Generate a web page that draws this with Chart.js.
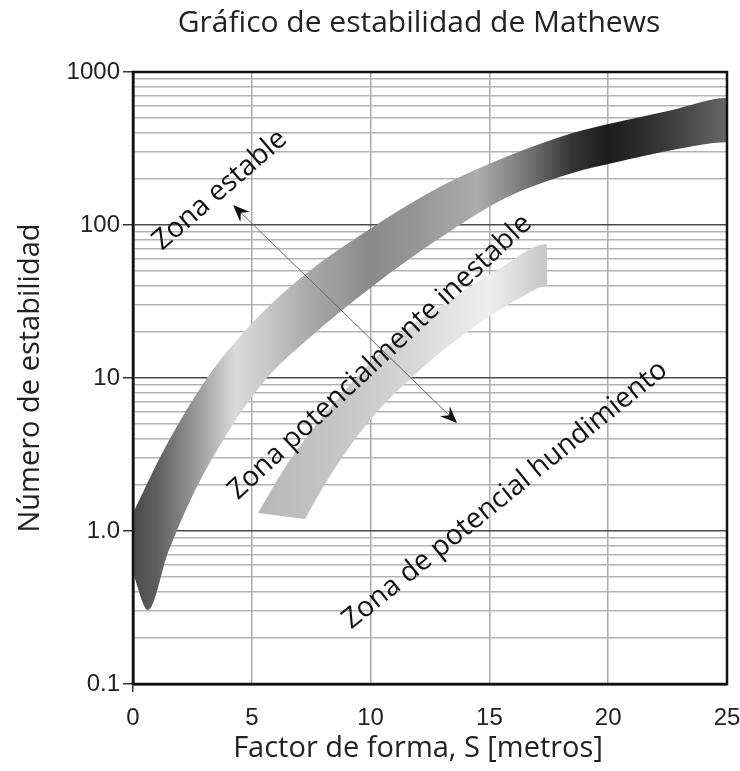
<!DOCTYPE html>
<html>
<head>
<meta charset="utf-8">
<title>Gráfico de estabilidad de Mathews</title>
<script src="https://cdn.jsdelivr.net/npm/chart.js@4.4.1/dist/chart.umd.min.js"></script>
<style>
  body { margin: 0; background: #fff; }
  canvas { display: block; }
</style>
</head>
<body>
<canvas id="mathews" width="740" height="771"></canvas>
<script>
// bordes de las zonas (S en m, N en escala log)
const stableTopX = [0, 1.35, 3.16, 5.26, 7.32, 10.1, 12.9, 15.74, 18.5, 20.2, 22.7, 25];
const stableTopY = [1.31, 3.5, 10.2, 25, 48.6, 97, 177, 280, 399, 464, 565, 676];
const stableBottomX = [0, 0.63, 1.47, 2.48, 3.87, 5.56, 7.32, 10.1, 12.9, 15.74, 18.5, 20.2, 22.7, 25];
const stableBottomY = [0.53, 0.305, 0.72, 1.67, 4.1, 9.7, 17.7, 40, 82, 152, 219, 254, 309, 348];

const cavingTopX = [5.26, 6.6, 9.13, 11.24, 13.34, 15.45, 17.42];
const cavingTopY = [1.31, 2.9, 9.0, 19.1, 32.4, 52, 75];
const cavingBottomX = [7.24, 8.29, 9.97, 12.08, 14.18, 16.29, 17.42];
const cavingBottomY = [1.2, 2.3, 5.3, 11.3, 20.6, 33.4, 40];

const xTickValues = [0, 5, 10, 15, 20, 25];
const xTickLabels = ['0', '5', '10', '15', '20', '25'];
const yTickValues = [0.1, 1, 10, 100, 1000];
const yTickLabels = ['0.1', '1.0', '10', '100', '1000'];

const zoneLabels = ['Zona estable', 'Zona potencialmente inestable', 'Zona de potencial hundimiento'];
const zoneLabelX = [3.66, 10.4, 15.66];
const zoneLabelY = [169, 13.7, 1.72];
const zoneLabelAngle = [-41, -43, -39];

const arrowFrom = [4.21, 135];
const arrowTo = [13.64, 5.08];

// lineas de rejilla menores: 1..9 de cada decada
let yGridValues = [];
yTickValues.slice(0, -1).forEach(function (d) {
    for (let m = 1; m < 10; m++) yGridValues.push(d * m);
});
yGridValues.push(1000);

// colores del degradado horizontal de cada banda
const stableShades = [[0, '#4a4a4a'], [1, '#5e5e5e'], [2.5, '#939393'], [4.3, '#dadada'], [5.5, '#cacaca'],
    [7.3, '#ababab'], [10, '#8a8a8a'], [12, '#969696'], [14.5, '#acacac'], [16.5, '#787878'],
    [18.5, '#343434'], [20, '#1c1c1c'], [22, '#333333'], [25, '#666666']];
const cavingShades = [[5.3, '#b8b8b8'], [8.3, '#c4c4c4'], [11.2, '#d3d3d3'], [13.8, '#e6e6e6'],
    [15, '#efefef'], [16.1, '#dddddd'], [17.42, '#c6c6c6']];

// contorno cerrado: borde superior de izquierda a derecha, luego el inferior de vuelta
function outline(topX, topY, botX, botY) {
    let pts = topX.map(function (x, i) { return { x: x, y: topY[i] } });
    for (let i = botX.length - 1; i >= 0; i--) pts.push({ x: botX[i], y: botY[i] });
    return pts;
}

function shade(stops) {
    return function (c) {
        const chart = c.chart;
        if (!chart.chartArea) return '#999';
        const xs = chart.scales.x;
        const x0 = xs.getPixelForValue(stops[0][0]);
        const x1 = xs.getPixelForValue(stops[stops.length - 1][0]);
        const g = chart.ctx.createLinearGradient(x0, 0, x1, 0);
        stops.forEach(function (s) {
            g.addColorStop((xs.getPixelForValue(s[0]) - x0) / (x1 - x0), s[1]);
        });
        return g;
    };
}

function arrowHead(ctx, tx, ty, ux, uy) {
    const nx = -uy, ny = ux;
    ctx.beginPath();
    ctx.moveTo(tx, ty);
    ctx.lineTo(tx - 17 * ux + 7 * nx, ty - 17 * uy + 7 * ny);
    ctx.lineTo(tx - 11 * ux, ty - 11 * uy);
    ctx.lineTo(tx - 17 * ux - 7 * nx, ty - 17 * uy - 7 * ny);
    ctx.closePath();
    ctx.fill();
}

const notes = {
    id: 'notes',
    beforeDraw(chart) {
        const ctx = chart.ctx;
        ctx.save();
        ctx.fillStyle = '#fff';
        ctx.fillRect(0, 0, chart.width, chart.height);
        ctx.restore();
    },
    afterDatasetsDraw(chart) {
        const ctx = chart.ctx;
        const a = chart.chartArea;
        const x = chart.scales.x, y = chart.scales.y;
        ctx.save();
        ctx.strokeStyle = '#111';
        ctx.lineWidth = 2.5;
        ctx.strokeRect(a.left, a.top, a.right - a.left, a.bottom - a.top);

        // flecha doble
        const x1 = x.getPixelForValue(arrowFrom[0]), y1 = y.getPixelForValue(arrowFrom[1]);
        const x2 = x.getPixelForValue(arrowTo[0]), y2 = y.getPixelForValue(arrowTo[1]);
        const len = Math.hypot(x2 - x1, y2 - y1);
        const ux = (x2 - x1) / len, uy = (y2 - y1) / len;
        ctx.strokeStyle = '#666';
        ctx.lineWidth = 1;
        ctx.beginPath();
        ctx.moveTo(x1 + 10 * ux, y1 + 10 * uy);
        ctx.lineTo(x2 - 10 * ux, y2 - 10 * uy);
        ctx.stroke();
        ctx.fillStyle = '#111';
        arrowHead(ctx, x1, y1, -ux, -uy);
        arrowHead(ctx, x2, y2, ux, uy);

        // nombres de las zonas
        ctx.font = '28px "Open Sans"';
        ctx.textAlign = 'center';
        ctx.textBaseline = 'middle';
        zoneLabels.forEach(function (txt, i) {
            ctx.save();
            ctx.translate(x.getPixelForValue(zoneLabelX[i]), y.getPixelForValue(zoneLabelY[i]));
            ctx.rotate(zoneLabelAngle[i] * Math.PI / 180);
            ctx.fillText(txt, 0, 0);
            ctx.restore();
        });
        ctx.restore();
    },
    afterDraw(chart) {
        const ctx = chart.ctx;
        ctx.save();
        ctx.fillStyle = '#222';
        ctx.textAlign = 'center';
        ctx.textBaseline = 'middle';
        ctx.font = '30px "Open Sans"';
        ctx.fillText('Gráfico de estabilidad de Mathews', 419, 23);
        ctx.font = '29px "Open Sans"';
        ctx.fillText('Factor de forma, S [metros]', 418, 749);
        ctx.restore();
    }
};

const tickFont = { family: '"Liberation Sans", Arial, sans-serif', size: 24 };

new Chart(document.getElementById('mathews'), {
    type: 'line',
    data: {
        datasets: [{
            label: 'Zona estable / inestable',
            data: outline(stableTopX, stableTopY, stableBottomX, stableBottomY),
            backgroundColor: shade(stableShades),
            borderWidth: 0,
            pointRadius: 0,
            cubicInterpolationMode: 'monotone',
            fill: 'shape'
        },
        {
            label: 'Zona inestable / hundimiento',
            data: outline(cavingTopX, cavingTopY, cavingBottomX, cavingBottomY),
            backgroundColor: shade(cavingShades),
            borderWidth: 0,
            pointRadius: 0,
            cubicInterpolationMode: 'monotone',
            fill: 'shape'
        }]
    },
    options: {
        responsive: false,
        animation: false,
        layout: { padding: { top: 72, right: 13, left: 0, bottom: 0 } },
        plugins: {
            legend: { display: false },
            tooltip: { enabled: false }
        },
        scales: {
            x: {
                type: 'linear',
                min: 0,
                max: 25,
                afterBuildTicks: function (s) { s.ticks = xTickValues.map(function (v) { return { value: v } }); },
                afterFit: function (s) {
                    s.height = 87;
                    s.paddingLeft = 0;
                    s.paddingRight = 0;
                },
                ticks: {
                    autoSkip: false,
                    maxRotation: 0,
                    padding: 12,
                    color: '#222',
                    font: tickFont,
                    callback: function (v, i) { return xTickLabels[i]; }
                },
                grid: {
                    color: '#ababab',
                    lineWidth: 1.5,
                    tickLength: 8,
                    tickColor: function (c) { return c.tick && c.tick.value === 0 ? '#333' : 'rgba(0,0,0,0)'; }
                },
                border: { color: '#111', width: 2.5 }
            },
            y: {
                type: 'logarithmic',
                min: 0.1,
                max: 1000,
                afterBuildTicks: function (s) { s.ticks = yGridValues.map(function (v) { return { value: v } }); },
                afterFit: function (s) { s.width = 133; },
                ticks: {
                    autoSkip: false,
                    padding: 3,
                    color: '#222',
                    font: tickFont,
                    callback: function (v) {
                        const i = yTickValues.indexOf(v);
                        return i >= 0 ? yTickLabels[i] : '';
                    }
                },
                grid: {
                    color: function (c) {
                        if (!c.tick) return '#bbb';
                        if (c.tick.value === 1000) return '#111';
                        return yTickValues.indexOf(c.tick.value) >= 0 ? '#4a4a4a' : '#b3b3b3';
                    },
                    lineWidth: 1.5,
                    tickLength: 10,
                    tickColor: function (c) {
                        return c.tick && yTickValues.indexOf(c.tick.value) >= 0 ? '#333' : 'rgba(0,0,0,0)';
                    }
                },
                border: { color: '#111', width: 2.5 },
                title: {
                    display: true,
                    text: 'Número de estabilidad',
                    color: '#222',
                    font: { family: '"Open Sans"', size: 29 },
                    padding: { top: 13, bottom: 0 }
                }
            }
        }
    },
    plugins: [notes]
});
</script>
</body>
</html>
